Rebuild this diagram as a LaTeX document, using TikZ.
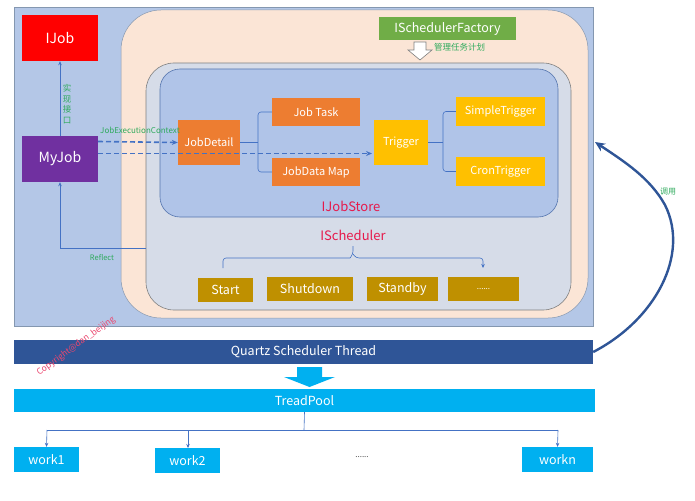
\documentclass[tikz,border=0pt]{standalone}
\usepackage{fontspec}
\setmainfont{Noto Sans CJK SC}
\usetikzlibrary{arrows.meta}
\definecolor{outerblue}{HTML}{B4C7E7}
\definecolor{storeblue}{HTML}{B0C4E8}
\definecolor{schedgray}{HTML}{D6DCE8}
\definecolor{peach}{HTML}{FBE5D6}
\definecolor{ijobred}{HTML}{FF0000}
\definecolor{mypurple}{HTML}{7030A0}
\definecolor{jorange}{HTML}{ED7D31}
\definecolor{tgold}{HTML}{FFC000}
\definecolor{dgold}{HTML}{BF9000}
\definecolor{fgreen}{HTML}{70AD47}
\definecolor{qblue}{HTML}{2F5597}
\definecolor{cyanb}{HTML}{00B0F0}
\definecolor{linkblue}{HTML}{4472C4}
\definecolor{lblgreen}{HTML}{2EAA5C}
\definecolor{lblred}{HTML}{E6194B}
\definecolor{bordergray}{HTML}{8497B0}
\tikzset{
  box/.style={inner sep=0pt, text=white, font=\fontsize{11}{13}\selectfont},
  thinlink/.style={draw=linkblue, line width=0.6pt},
  dashlink/.style={draw=linkblue, line width=1.6pt, dash pattern=on 5pt off 3pt, -{Stealth[length=6pt,width=5pt]}},
  lbl/.style={text=lblgreen, inner sep=0pt},
  redlbl/.style={text=lblred, inner sep=0pt, font=\fontsize{13}{15}\selectfont},
}
\begin{document}
\begin{tikzpicture}[x=1pt,y=-1pt]
\useasboundingbox (0,0) rectangle (695,500);
\fill[white] (0,0) rectangle (695,500);
% outer blue region
\draw[fill=outerblue, draw=bordergray, line width=0.6pt] (14,7) rectangle (593,326);
% peach rounded region
\draw[fill=peach, draw=bordergray, line width=0.5pt, rounded corners=40pt] (121,10) rectangle (588,318);
% IScheduler region
\draw[fill=schedgray, draw=gray, line width=0.6pt, rounded corners=28pt] (146,63) rectangle (571,310);
% IJobStore region
\draw[fill=storeblue, draw=linkblue!70!gray, line width=0.6pt, rounded corners=20pt] (160,69) rectangle (558,217);

% nodes
\node[box, fill=ijobred, minimum width=76pt, minimum height=46pt, font=\fontsize{14}{16}\selectfont] (ijob) at (60,38) {IJob};
\node[box, fill=mypurple, minimum width=76pt, minimum height=46pt, font=\fontsize{14}{16}\selectfont] (myjob) at (60,159) {MyJob};
\node[box, fill=jorange, minimum width=62pt, minimum height=45pt] (jobdetail) at (209,142.5) {JobDetail};
\node[box, fill=jorange, minimum width=88pt, minimum height=28pt] (jobtask) at (316,112) {Job Task};
\node[box, fill=jorange, minimum width=88pt, minimum height=28pt] (jobdata) at (316,172) {JobData Map};
\node[box, fill=tgold, minimum width=54pt, minimum height=45pt] (trigger) at (401,142.5) {Trigger};
\node[box, fill=tgold, minimum width=89pt, minimum height=29pt] (simple) at (500.5,111.5) {SimpleTrigger};
\node[box, fill=tgold, minimum width=89pt, minimum height=29pt] (cron) at (500.5,171.5) {CronTrigger};
\node[box, fill=fgreen, minimum width=137pt, minimum height=23pt, font=\fontsize{12.5}{15}\selectfont] (factory) at (447.5,28.5) {ISchedulerFactory};

\node[redlbl] (storelbl) at (351,206) {IJobStore};
\node[redlbl] (schedlbl) at (353,235) {IScheduler};

\node[box, fill=dgold, minimum width=55pt, minimum height=24pt, font=\fontsize{12.5}{15}\selectfont] (start) at (225.5,290) {Start};
\node[box, fill=dgold, minimum width=86pt, minimum height=24pt, font=\fontsize{12.5}{15}\selectfont] (shutdown) at (310,289) {Shutdown};
\node[box, fill=dgold, minimum width=71pt, minimum height=24pt, font=\fontsize{12.5}{15}\selectfont] (standby) at (402.5,289) {Standby};
\node[box, fill=dgold, minimum width=71pt, minimum height=24pt, font=\fontsize{8}{10}\selectfont] (more) at (483.5,289) {......};

\node[box, fill=qblue, minimum width=579pt, minimum height=24pt, font=\fontsize{12.5}{15}\selectfont] (quartz) at (303.5,352) {Quartz Scheduler Thread};
\node[box, fill=cyanb, minimum width=581pt, minimum height=23pt, font=\fontsize{12.5}{15}\selectfont] (pool) at (304.5,400.5) {TreadPool};
\node[box, fill=cyanb, minimum width=65pt, minimum height=25pt, font=\fontsize{12.5}{15}\selectfont] (work1) at (46.5,459.5) {work1};
\node[box, fill=cyanb, minimum width=65pt, minimum height=25pt, font=\fontsize{12.5}{15}\selectfont] (work2) at (187.5,460.5) {work2};
\node[box, fill=cyanb, minimum width=71pt, minimum height=25pt, font=\fontsize{12.5}{15}\selectfont] (workn) at (557.5,459.5) {workn};
\node[inner sep=0pt, text=black!70, font=\fontsize{8}{10}\selectfont] (wdots) at (362,457) {......};

% hollow arrow under factory
\draw[fill=white, draw=gray, line width=0.6pt] (414,42)--(426,42)--(426,50)--(432,50)--(420,60)--(408,50)--(414,50)--cycle;
\node[lbl, font=\fontsize{8.5}{10}\selectfont, anchor=west] (mgr) at (434,47) {管理任务计划};

% cyan down arrow
\fill[cyanb] (297,367)--(322,367)--(322,377)--(335,377)--(309.5,387)--(284,377)--(297,377)--cycle;

% 实现接口
\draw[thinlink, -{Stealth[length=4pt,width=3.5pt]}] (myjob.north) -- (ijob.south);
\node[lbl, align=center, font=\fontsize{8.5}{10.5}\selectfont] (impl) at (67,104) {实\\现\\接\\口};

% dashed arrows
\draw[dashlink] (98,141.5) -- (jobdetail.west);
\draw[dashlink] (98,153.5) -- (372,153.5);
\node[lbl, font=\fontsize{8}{9}\selectfont] (jec) at (140,130) {JobExecutionContext};

% Reflect
\coordinate (refl) at (146,248);
\draw[thinlink, -{Stealth[length=4pt,width=3.5pt]}] (refl) -- (60,248) -- (myjob.south);
\node[lbl, font=\fontsize{7.5}{9}\selectfont] (refllbl) at (102,258) {Reflect};

% JobDetail bracket
\coordinate (jb) at (258,142.5);
\draw[thinlink] (jobdetail.east) -- (jb);
\draw[thinlink, rounded corners=3pt] (jobtask.west) -- (258,112) -- (258,172) -- (jobdata.west);
% Trigger bracket
\coordinate (tb) at (443,142.5);
\draw[thinlink] (trigger.east) -- (tb);
\draw[thinlink, rounded corners=3pt] (simple.west) -- (443,111.5) -- (443,171.5) -- (cron.west);

% IScheduler brace
\coordinate (bl) at (223,268);
\coordinate (bm) at (353,246);
\draw[thinlink, rounded corners=3pt] (bl) -- (223,258) -- (350,258);
\draw[thinlink, rounded corners=3pt] (350,258) -- (353,254) -- (bm);
\draw[thinlink, rounded corners=3pt, -{Stealth[length=4pt,width=3.5pt]}] (353,254) -- (356,258) -- (483,258) -- (483,268);

% TreadPool tree
\coordinate (tp) at (304,430);
\draw[thinlink] (pool.south) -- (tp);
\draw[thinlink] (47,430) -- (558,430);
\draw[thinlink, -{Stealth[length=4pt,width=3.5pt]}] (47,430) -- (work1.north);
\draw[thinlink, -{Stealth[length=4pt,width=3.5pt]}] (188,430) -- (188,448);
\draw[thinlink, -{Stealth[length=4pt,width=3.5pt]}] (558,430) -- (workn.north);

% 调用 curve
\draw[draw=qblue, line width=2.4pt, -{Stealth[length=10pt,width=9pt]}] (quartz.east) .. controls (655,320) and (690,255) .. (665,205) .. controls (650,178) and (625,162) .. (595,142);
\node[lbl, font=\fontsize{8}{9}\selectfont] (call) at (668,192) {调用};

% watermark
\node[text=lblred!80, rotate=36, font=\fontsize{8.5}{10}\selectfont, inner sep=0pt] (wm) at (76,346) {Copyright@dan\_beijing};
\end{tikzpicture}
\end{document}
